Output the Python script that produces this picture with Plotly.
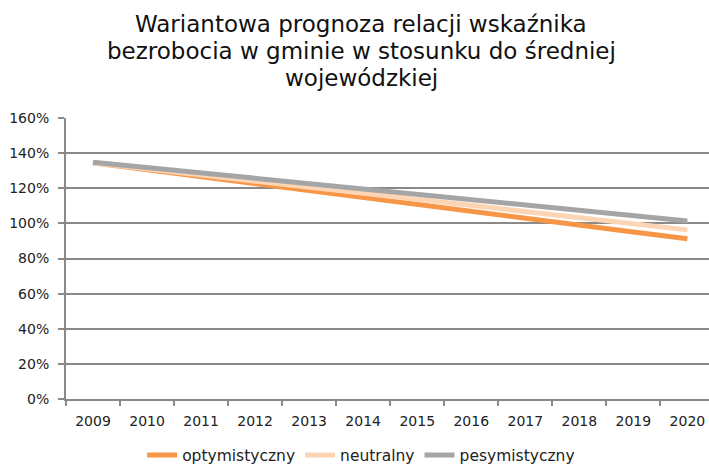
import plotly.graph_objects as go

years = ["2009", "2010", "2011", "2012", "2013", "2014", "2015", "2016", "2017", "2018", "2019", "2020"]
optymistyczny = [1.345, 1.305, 1.266, 1.227, 1.188, 1.148, 1.109, 1.069, 1.030, 0.991, 0.951, 0.912]
neutralny = [1.345, 1.310, 1.275, 1.241, 1.206, 1.171, 1.137, 1.102, 1.067, 1.032, 0.998, 0.963]
pesymistyczny = [1.348, 1.318, 1.287, 1.257, 1.227, 1.196, 1.166, 1.135, 1.105, 1.075, 1.044, 1.014]
y_ticks = [0, 0.2, 0.4, 0.6, 0.8, 1.0, 1.2, 1.4, 1.6]
title_lines = ["Wariantowa prognoza relacji wskaźnika",
               "bezrobocia w gminie w stosunku do średniej",
               "wojewódzkiej"]

FONT = "DejaVu Sans"
PLOT_TOP, PLOT_BOTTOM = 118, 399
PLOT_H = PLOT_BOTTOM - PLOT_TOP

fig = go.Figure()
series = [
    ("optymistyczny", optymistyczny, "#F79646"),
    ("neutralny", neutralny, "#FCD5B5"),
    ("pesymistyczny", pesymistyczny, "#A5A5A5"),
]
for name, vals, col in series:
    fig.add_trace(go.Scatter(
        x=years, y=vals, name=name, mode="lines",
        line=dict(color=col, width=5),
    ))

annotations = []
for txt, ypx in zip(title_lines, [24, 51, 78]):
    annotations.append(dict(
        text=txt, xref="paper", yref="paper",
        x=0.459, xanchor="center",
        y=(PLOT_BOTTOM - ypx) / PLOT_H, yanchor="middle",
        showarrow=False,
        font=dict(family=FONT, size=23, color="#111111"),
    ))

fig.update_layout(
    width=709, height=465,
    margin=dict(l=66, r=0, t=PLOT_TOP, b=465 - PLOT_BOTTOM, autoexpand=False),
    paper_bgcolor="white", plot_bgcolor="white",
    font=dict(family=FONT, color="#222222", size=14),
    annotations=annotations,
    showlegend=True,
    legend=dict(
        orientation="h", x=0.459, xanchor="center", y=(PLOT_BOTTOM - 455.5) / PLOT_H, yanchor="middle",
        font=dict(family=FONT, size=15.5, color="#222222"),
        traceorder="normal",
    ),
    xaxis=dict(
        type="category", range=[-0.5, 11.4], automargin=False,
        showgrid=False, showline=True, linecolor="#898989", linewidth=2,
        ticks="outside", tickson="boundaries", ticklen=5, tickwidth=2, tickcolor="#898989",
        tickfont=dict(family=FONT, size=14, color="#222222"),
        ticklabelstandoff=8,
    ),
    yaxis=dict(
        range=[0, 1.6], tickvals=y_ticks, tickformat=".0%", automargin=False,
        showgrid=True, gridcolor="#898989", gridwidth=2,
        showline=True, linecolor="#898989", linewidth=2,
        ticks="outside", ticklen=6, tickwidth=2, tickcolor="#898989",
        tickfont=dict(family=FONT, size=14, color="#222222"),
        zeroline=False, ticklabelstandoff=6,
    ),
)

fig.write_html("out.html", config={"displayModeBar": False},
               post_script="document.body.style.margin='0';document.body.style.overflow='hidden';")
